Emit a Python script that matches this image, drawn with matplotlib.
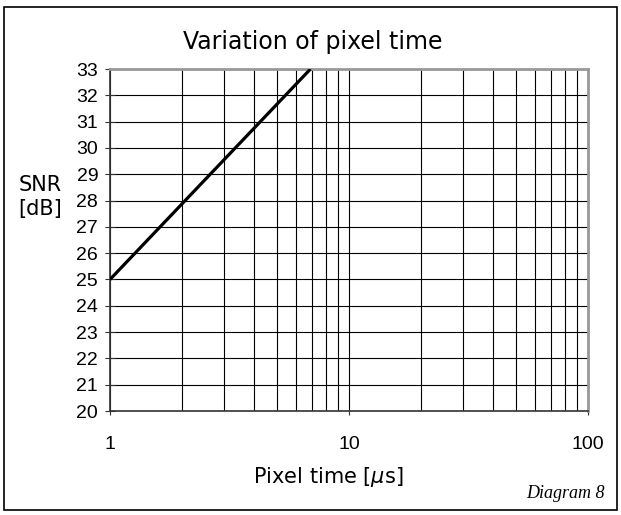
import numpy as np
import matplotlib.pyplot as plt
from matplotlib.patches import Rectangle

# data
pixel_time = [1.0, 6.9]
snr_db = [25.0, 33.0]
y_ticks = list(range(20, 34))
x_ticks = [1, 10, 100]

fig = plt.figure(figsize=(6.21, 5.15), dpi=100)
fig.patches.append(Rectangle((4/621, 1 - 510/515), 613/621, 503/515, transform=fig.transFigure,
                             fill=False, edgecolor='black', linewidth=1.2))
ax = fig.add_axes([110/621, 1 - 411/515, 478/621, 342/515])

ax.plot(pixel_time, snr_db, color='black', linewidth=2.3, solid_capstyle='butt', zorder=3)

ax.set_xscale('log')
ax.set_xlim(1, 100)
ax.set_ylim(20, 33)
ax.set_yticks(y_ticks)
ax.set_xticks(x_ticks)
ax.set_xticklabels([str(t) for t in x_ticks])
ax.set_xticks([m * d for d in (1, 10) for m in range(2, 10)], minor=True)
ax.xaxis.set_minor_formatter(plt.NullFormatter())
ax.grid(True, which='both', axis='x', color='black', linewidth=0.8)
ax.grid(True, which='major', axis='y', color='black', linewidth=0.8)
ax.tick_params(axis='x', which='minor', length=0)
ax.tick_params(axis='x', which='major', direction='out', length=3, pad=15, color='#333333')
ax.tick_params(axis='y', direction='inout', length=7, pad=5, color='#333333')
for lbl in ax.get_xticklabels() + ax.get_yticklabels():
    lbl.set_family('Liberation Sans')
    lbl.set_fontsize(14)
for side in ('left', 'bottom'):
    ax.spines[side].set_color('#333333')
    ax.spines[side].set_linewidth(1.2)
for side in ('top', 'right'):
    ax.spines[side].set_color('#999999')
    ax.spines[side].set_linewidth(2.0)

fig.text(313/621, 1 - 42/515, 'Variation of pixel time', ha='center', va='center', fontsize=17,
         family='DejaVu Sans')
fig.text(40/621, 1 - 197/515, 'SNR\n[dB]', ha='center', va='center', fontsize=15,
         family='DejaVu Sans', linespacing=1.2)
fig.text(328/621, 1 - 477/515, 'Pixel time [$\\mu$s]', ha='center', va='center', fontsize=15,
         family='DejaVu Sans')
fig.text(605/621, 1 - 493/515, 'Diagram 8', ha='right', va='center', fontsize=13,
         family='Liberation Serif', style='italic')

fig.savefig('out.png', dpi=100)
